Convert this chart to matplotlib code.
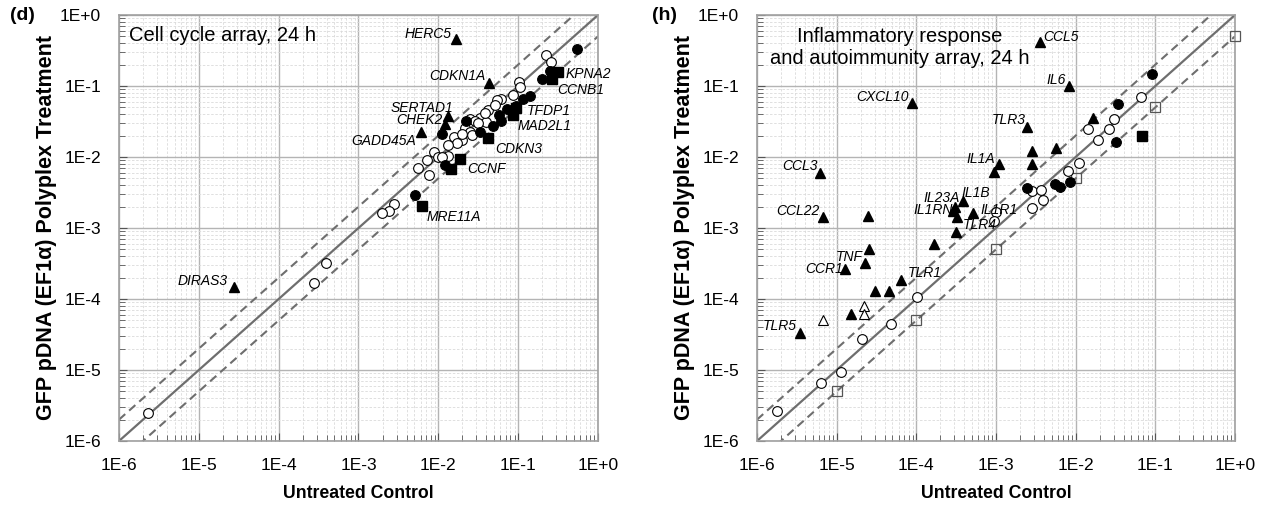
import matplotlib
matplotlib.use("Agg")
import matplotlib.pyplot as plt
from matplotlib.ticker import LogLocator, NullFormatter, FixedLocator, FixedFormatter

plt.rcParams['font.family'] = ['Liberation Sans', 'DejaVu Sans']

# ---------------- data: panel (d) cell cycle array ----------------
d_open_x = [0.222, 0.259, 0.101, 0.106, 0.087, 0.061, 0.054, 0.0425, 0.0334, 0.0397,
            0.025, 0.0217, 0.025, 0.0155, 0.0197, 0.0171, 0.0087, 0.0099, 0.0134, 0.0072,
            0.0056, 0.0077, 0.0028, 0.0024, 0.00196, 3.93e-4, 2.8e-4, 2.33e-6,
            0.0289, 0.0315, 0.0265, 0.0133, 0.0515, 0.0385, 0.0111, 0.0199]
d_open_y = [0.273, 0.220, 0.113, 0.096, 0.075, 0.065, 0.064, 0.046, 0.035, 0.0314,
            0.034, 0.026, 0.0227, 0.0193, 0.0174, 0.0156, 0.0119, 0.0101, 0.0104, 0.0091,
            0.0069, 0.0056, 0.0022, 0.00175, 0.00161, 3.18e-4, 1.7e-4, 2.5e-6,
            0.0321, 0.0298, 0.0204, 0.0148, 0.054, 0.0412, 0.0100, 0.0211]
d_fill_x = [0.545, 0.252, 0.198, 0.141, 0.115, 0.094, 0.073, 0.057, 0.061, 0.049,
            0.033, 0.022, 0.011, 0.012, 0.0051]
d_fill_y = [0.332, 0.163, 0.126, 0.072, 0.066, 0.052, 0.047, 0.039, 0.032, 0.027,
            0.0225, 0.032, 0.021, 0.0078, 0.0029]
d_tri_genes = ['HERC5', 'CDKN1A', 'SERTAD1', 'CHEK2', 'GADD45A', 'DIRAS3']
d_tri_x = [0.0166, 0.0434, 0.0134, 0.0122, 0.0060, 2.76e-5]
d_tri_y = [0.455, 0.111, 0.0378, 0.0292, 0.0223, 1.49e-4]
d_sq_genes = ['KPNA2', 'CCNB1', 'TFDP1', 'MAD2L1', 'CDKN3', 'CCNF', '', 'MRE11A']
d_sq_x = [0.320, 0.264, 0.0944, 0.0865, 0.0425, 0.01875, 0.01445, 0.00621]
d_sq_y = [0.156, 0.1255, 0.049, 0.0391, 0.0187, 0.00929, 0.00671, 0.00204]

# ---------------- data: panel (h) inflammatory response array ----------------
h_tri_genes = ['CCL5', 'IL6', 'TLR3', 'CXCL10', 'CCL3', 'CCL22', 'IL1A', 'IL1B', 'IL23A',
               'IL1RN', 'IL1R1', 'TLR4', 'TNF', 'CCR1', 'TLR1', 'TLR5',
               '', '', '', '', '', '', '', '', '', '', '', '']
h_tri_x = [0.00356, 0.00824, 0.00247, 8.89e-5, 6.18e-6, 6.68e-6, 0.00109, 3.82e-4, 3.05e-4,
           2.91e-4, 5.19e-4, 3.15e-4, 2.27e-5, 1.27e-5, 6.41e-5, 3.47e-6,
           0.00286, 0.0028, 0.00566, 0.01664, 0.000944, 2.49e-5, 3.26e-4, 1.67e-4,
           2.57e-5, 3.03e-5, 4.58e-5, 1.51e-5]
h_tri_y = [0.421, 0.101, 0.0267, 0.057, 0.00601, 0.00142, 0.00797, 0.0024, 0.00196,
           0.00175, 0.00164, 8.87e-4, 3.18e-4, 2.62e-4, 1.85e-4, 3.35e-5,
           0.01227, 0.00789, 0.0135, 0.0351, 0.0061, 0.00148, 0.00142, 5.89e-4,
           5.01e-4, 1.31e-4, 1.30e-4, 6.09e-5]
h_otri_x = [6.79e-6, 2.2e-5, 2.2e-5]
h_otri_y = [5.06e-5, 7.97e-5, 6.09e-5]
h_open_x = [1.01e-4, 4.81e-5, 2.1e-5, 1.13e-5, 6.31e-6, 1.77e-6, 0.066, 0.0305, 0.0262,
            0.01416, 0.0192, 0.0111, 0.00807, 0.00286, 0.00367, 0.00385, 0.00286, 0.001,
            9.44e-4]
h_open_y = [1.08e-4, 4.45e-5, 2.7e-5, 9.28e-6, 6.62e-6, 2.65e-6, 0.0693, 0.0343, 0.0251,
            0.0251, 0.0174, 0.00832, 0.00629, 0.00332, 0.00343, 0.00248, 0.00193, 0.0017,
            0.00126]
h_fill_x = [0.0917, 0.0337, 0.0318, 0.00247, 0.0055, 0.00635, 0.00849]
h_fill_y = [0.1476, 0.0552, 0.0161, 0.0037, 0.00412, 0.00382, 0.00449]
h_sq_x = [0.0675]
h_sq_y = [0.020]
h_osq_x = [1e-5, 1e-4, 1e-3, 1e-2, 1e-1, 1.0]
h_osq_y = [5e-6, 5e-5, 5e-4, 5e-3, 5e-2, 0.5]

# axis ticks
tick_vals = [1e-6, 1e-5, 1e-4, 1e-3, 1e-2, 1e-1, 1e0]
tick_labels = ['1E-6', '1E-5', '1E-4', '1E-3', '1E-2', '1E-1', '1E+0']
fold = 2.0

# ---------------- label layout (ha, dx px, dy px) ----------------
label_layout = {
    'HERC5': ('right', -4, 1), 'CDKN1A': ('right', -4, 3), 'SERTAD1': ('right', 5, 4),
    'CHEK2': ('right', -3, 0), 'GADD45A': ('right', -5, -13), 'DIRAS3': ('right', -6, 2),
    'KPNA2': ('left', 7, -6), 'CCNB1': ('left', 5, -15), 'TFDP1': ('left', 11, -7),
    'MAD2L1': ('left', 4, -15), 'CDKN3': ('left', 7, -15), 'CCNF': ('left', 7, -14),
    'MRE11A': ('left', 5, -15),
    'CCL5': ('left', 3, 1), 'IL6': ('right', -3, 2), 'TLR3': ('right', -2, 3),
    'CXCL10': ('right', -4, 2), 'CCL3': ('right', -2, 3), 'CCL22': ('right', -3, 2),
    'IL1A': ('right', -4, 1), 'IL1B': ('left', -1, 4), 'IL23A': ('right', 5, 5),
    'IL1RN': ('right', 0, -3), 'IL1R1': ('left', 7, -1), 'TLR4': ('left', 7, 3),
    'TNF': ('right', -2, 2), 'CCR1': ('right', -2, -4), 'TLR1': ('left', 7, 3),
    'TLR5': ('right', -3, 3),
}

fig = plt.figure(figsize=(12.68, 5.05), dpi=100)
ax_d = fig.add_axes([119 / 1268, 64 / 505, 479 / 1268, 426 / 505])
ax_h = fig.add_axes([757 / 1268, 64 / 505, 478 / 1268, 426 / 505])

MS = 7
line_col = '#6e6e6e'


def style(ax):
    ax.set_xscale('log')
    ax.set_yscale('log')
    ax.set_xlim(1e-6, 1)
    ax.set_ylim(1e-6, 1)
    ax.xaxis.set_major_locator(FixedLocator(tick_vals))
    ax.yaxis.set_major_locator(FixedLocator(tick_vals))
    ax.xaxis.set_major_formatter(FixedFormatter(tick_labels))
    ax.yaxis.set_major_formatter(FixedFormatter(tick_labels))
    for a in (ax.xaxis, ax.yaxis):
        a.set_minor_locator(LogLocator(base=10, subs=range(2, 10), numticks=20))
        a.set_minor_formatter(NullFormatter())
    ax.grid(which='minor', color='#dadada', lw=0.6, ls=(0, (3, 2)))
    ax.grid(which='major', color='#b4b4b4', lw=1.0)
    ax.set_axisbelow(True)
    ax.tick_params(which='both', direction='in', colors='#555555', top=False, right=False)
    ax.tick_params(which='major', length=6, width=0.8, labelsize=12.5, labelcolor='black')
    ax.tick_params(axis='y', which='major', pad=13)
    ax.tick_params(axis='x', which='major', pad=12)
    ax.tick_params(which='minor', length=4, width=0.6)
    for s in ax.spines.values():
        s.set_color('#a0a0a0')
        s.set_linewidth(1.2)
    xs = [1e-6, 1.0]
    ax.plot(xs, xs, color=line_col, lw=1.6, zorder=2)
    ax.plot(xs, [v * fold for v in xs], color=line_col, lw=1.5, ls=(0, (4, 2.5)), zorder=2)
    ax.plot(xs, [v / fold for v in xs], color=line_col, lw=1.5, ls=(0, (4, 2.5)), zorder=2)
    ax.set_xlabel('Untreated Control', fontsize=12.7, fontweight='bold', labelpad=9)
    ax.set_ylabel('GFP pDNA (EF1\u03b1) Polyplex Treatment', fontsize=15.5, fontweight='bold',
                  labelpad=2)


def label(ax, genes, xs, ys):
    for g, x, y in zip(genes, xs, ys):
        if not g:
            continue
        ha, dx, dy = label_layout[g]
        ax.annotate(g, (x, y), xytext=(dx, dy), textcoords='offset pixels', ha=ha,
                    va='baseline', fontsize=10, fontstyle='italic', zorder=5)


for ax in (ax_d, ax_h):
    style(ax)

# panel d
ax_d.plot(d_open_x, d_open_y, 'o', ms=MS, mfc='white', mec='black', mew=0.8, zorder=3)
ax_d.plot(d_fill_x, d_fill_y, 'o', ms=MS, mfc='black', mec='black', mew=0.8, zorder=3)
ax_d.plot(d_tri_x, d_tri_y, '^', ms=MS, mfc='black', mec='black', zorder=3)
ax_d.plot(d_sq_x, d_sq_y, 's', ms=6.5, mfc='black', mec='black', zorder=3)
label(ax_d, d_tri_genes, d_tri_x, d_tri_y)
label(ax_d, d_sq_genes, d_sq_x, d_sq_y)
ax_d.text(0.021, 0.953, 'Cell cycle array, 24 h', transform=ax_d.transAxes,
          fontsize=14.5, ha='left', va='center', zorder=6)

# panel h
ax_h.plot(h_osq_x, h_osq_y, 's', ms=6.5, mfc='none', mec='#555555', mew=0.9, zorder=3,
          clip_on=False)
ax_h.plot(h_open_x, h_open_y, 'o', ms=MS, mfc='white', mec='black', mew=0.8, zorder=3)
ax_h.plot(h_fill_x, h_fill_y, 'o', ms=MS, mfc='black', mec='black', mew=0.8, zorder=3)
ax_h.plot(h_otri_x, h_otri_y, '^', ms=MS, mfc='white', mec='black', mew=0.8, zorder=3)
ax_h.plot(h_tri_x, h_tri_y, '^', ms=MS, mfc='black', mec='black', zorder=3)
ax_h.plot(h_sq_x, h_sq_y, 's', ms=6.5, mfc='black', mec='black', zorder=3)
label(ax_h, h_tri_genes, h_tri_x, h_tri_y)
ax_h.text(0.299, 0.924, 'Inflammatory response\nand autoimmunity array, 24 h',
          transform=ax_h.transAxes, fontsize=14.5, ha='center', va='center',
          linespacing=1.2, zorder=6)

fig.text(10 / 1268, 1 - 15 / 505, '(d)', fontsize=14, fontweight='bold', ha='left', va='center')
fig.text(652 / 1268, 1 - 15 / 505, '(h)', fontsize=14, fontweight='bold', ha='left', va='center')

fig.savefig('out.png', dpi=100)
